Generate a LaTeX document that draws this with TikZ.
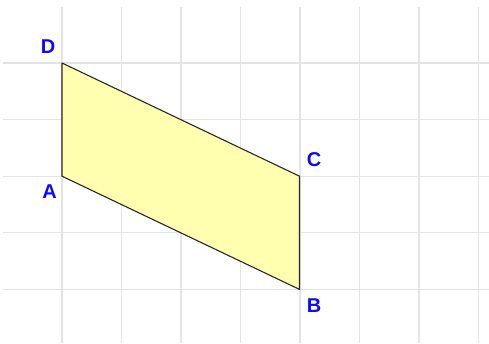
\documentclass[tikz,border=0pt]{standalone}
\usepackage{fontspec}
\setmainfont{Liberation Sans}
\definecolor{gridc}{RGB}{228,228,228}
\definecolor{fillc}{RGB}{255,255,175}
\definecolor{edgec}{RGB}{40,40,40}
\definecolor{labc}{RGB}{10,10,255}
\begin{document}
\begin{tikzpicture}[x=1pt,y=-1pt,
  gridline/.style={draw=gridc,line width=1.3pt},
  ptlabel/.style={text=labc,font=\fontsize{20}{20}\selectfont\bfseries,inner sep=0pt,anchor=center}]
\useasboundingbox (0,0) rectangle (489,343);
\fill[white] (0,0) rectangle (489,343);
% grid
\foreach \x in {62,121.5,181,240.5,300,359.5,419,478.5}
  \draw[gridline] (\x,7) -- (\x,343);
\foreach \y in {63,119.6,176.2,232.8,289.4}
  \draw[gridline] (3,\y) -- (489,\y);
% vertices
\coordinate (A) at (62,176.2);
\coordinate (B) at (299.5,289.4);
\coordinate (C) at (299.5,176.2);
\coordinate (D) at (62,63);
\filldraw[fill=fillc,draw=edgec,line width=1.1pt,line join=round] (A) -- (B) -- (C) -- (D) -- cycle;
% labels
\node[ptlabel] (lD) at (48,46.5) {D};
\node[ptlabel] (lA) at (49.5,191.5) {A};
\node[ptlabel] (lC) at (314,160) {C};
\node[ptlabel] (lB) at (314,305.3) {B};
\end{tikzpicture}
\end{document}
